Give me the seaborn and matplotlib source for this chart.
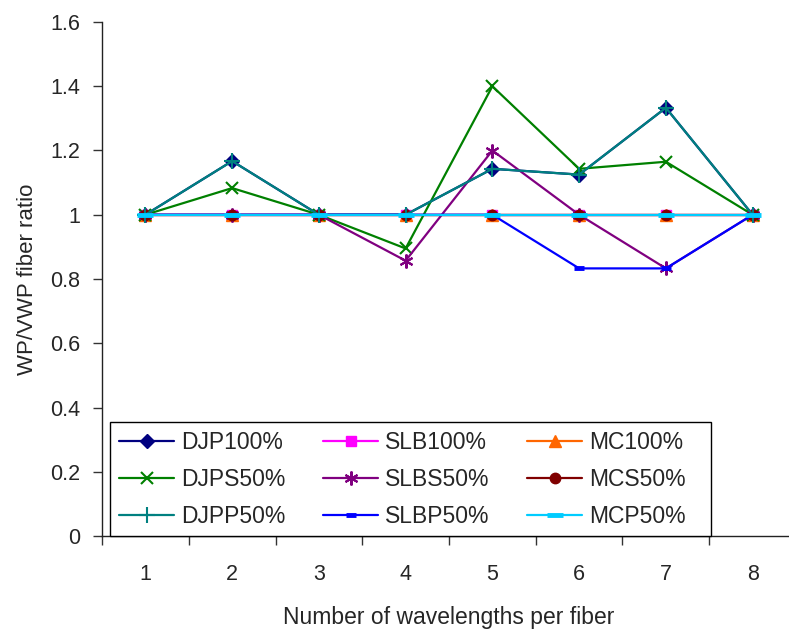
import matplotlib
matplotlib.use("Agg")
import matplotlib.pyplot as plt
from matplotlib.patches import Rectangle
import seaborn as sns
import numpy as np

x_vals = [1, 2, 3, 4, 5, 6, 7, 8]
x_labels = ["1", "2", "3", "4", "5", "6", "7", "8"]

djp100 = [1, 1.167, 1, 1, 1.143, 1.125, 1.333, 1]
slb100 = [1, 1, 1, 1, 1, 1, 1, 1]
mc100 = [1, 1, 1, 1, 1, 1, 1, 1]
djps50 = [1, 1.083, 1, 0.895, 1.4, 1.143, 1.165, 1]
slbs50 = [1, 1, 1, 0.857, 1.2, 1, 0.833, 1]
mcs50 = [1, 1, 1, 1, 1, 1, 1, 1]
djpp50 = [1, 1.167, 1, 1, 1.143, 1.125, 1.333, 1]
slbp50 = [1, 1, 1, 1, 1, 0.833, 0.833, 1]
mcp50 = [1, 1, 1, 1, 1, 1, 1, 1]

series_names = ["DJP100%", "SLB100%", "MC100%", "DJPS50%", "SLBS50%", "MCS50%",
                "DJPP50%", "SLBP50%", "MCP50%"]
series_vals = [djp100, slb100, mc100, djps50, slbs50, mcs50, djpp50, slbp50, mcp50]

sns.set_style("white")
plt.rcParams['font.family'] = ['Liberation Sans', 'DejaVu Sans']

styles = {
    "DJP100%": dict(color="#000080", marker="D", ms=7, mec="#000080", mew=1),
    "SLB100%": dict(color="#FF00FF", marker="s", ms=7, mec="#FF00FF", mew=1),
    "MC100%": dict(color="#FF6600", marker="^", ms=8, mec="#FF6600", mew=1),
    "DJPS50%": dict(color="#008000", marker="x", ms=9, mec="#008000", mew=1.5),
    "SLBS50%": dict(color="#800080", marker=(6, 2, 0), ms=10, mec="#800080", mew=1.5),
    "MCS50%": dict(color="#800000", marker="o", ms=7.5, mec="#800000", mew=1),
    "DJPP50%": dict(color="#008080", marker="+", ms=11, mec="#008080", mew=1.5),
    "SLBP50%": dict(color="#0000FF", marker="_", ms=7, mec="#0000FF", mew=3.5),
    "MCP50%": dict(color="#00CCFF", marker="_", ms=11, mec="#00CCFF", mew=3.5),
}

W, H = 789, 630
fig = plt.figure(figsize=(W / 100, H / 100), dpi=100)
ax = fig.add_axes([102 / W, (H - 536) / H, 694 / W, 514 / H])

handles = {}
for name, vals in zip(series_names, series_vals):
    st = styles[name]
    sns.lineplot(x=x_vals, y=vals, ax=ax, color=st["color"], marker=st["marker"],
                 markersize=st["ms"], markeredgecolor=st["mec"],
                 markeredgewidth=st["mew"], markerfacecolor=st["color"],
                 linewidth=1.6, label=name, legend=False)
    handles[name] = ax.lines[-1]

ax.set_xlim(0.5, 8.5)
ax.set_ylim(0, 1.6)
ax.set_yticks(np.arange(0, 1.61, 0.2))
ax.set_yticklabels(["0", "0.2", "0.4", "0.6", "0.8", "1", "1.2", "1.4", "1.6"])
ax.set_xticks(x_vals)
ax.set_xticklabels(x_labels)
ax.set_xticks(np.arange(0.5, 8.51, 1), minor=True)
ax.tick_params(axis="x", which="major", length=0, pad=20, labelsize=15.5)
ax.tick_params(axis="x", which="minor", length=6.5, width=1, direction="out",
               bottom=True, color="#333333")
ax.tick_params(axis="y", which="major", length=6.5, width=1, direction="out", left=True,
               pad=9, labelsize=15.5, color="#333333")

for s in ["top", "right"]:
    ax.spines[s].set_visible(False)
for s in ["left", "bottom"]:
    ax.spines[s].set_color("#222222")
    ax.spines[s].set_linewidth(1)

ax.set_xlabel("Number of wavelengths per fiber", fontsize=16.5, labelpad=15)
ax.set_ylabel("WP/VWP fiber ratio", fontsize=16, labelpad=9)

# legend frame (Excel-style, extra right margin)
frame = Rectangle((110 / W, (H - 536) / H), (711 - 110) / W, (536 - 422) / H,
                  transform=fig.transFigure, facecolor="white", edgecolor="black",
                  linewidth=1, zorder=4, clip_on=False)
ax.add_patch(frame)

order = ["DJP100%", "DJPS50%", "DJPP50%", "SLB100%", "SLBS50%", "SLBP50%",
         "MC100%", "MCS50%", "MCP50%"]
fs = 16.5
fpx = fs * 100 / 72
bp = 0.3
leg = ax.legend([handles[n] for n in order], order, ncol=3, loc="upper left",
                bbox_to_anchor=((119 - bp * fpx) / W, 1 - (444 - 0.56 * fpx - bp * fpx) / H),
                bbox_transform=fig.transFigure,
                borderaxespad=0, frameon=False, fontsize=fs,
                handlelength=2.4, labelspacing=0.6, handletextpad=0.3,
                borderpad=bp, columnspacing=1.65)
leg.set_zorder(5)

fig.savefig("out.png", dpi=100, facecolor="white")
